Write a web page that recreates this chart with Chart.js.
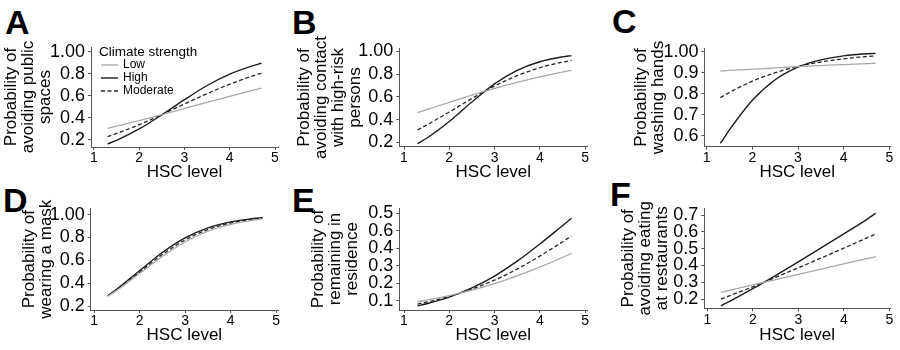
<!DOCTYPE html>
<html>
<head>
<meta charset="utf-8">
<script src="https://cdn.jsdelivr.net/npm/chart.js@4.4.1/dist/chart.umd.min.js"></script>
<style>
  body { margin: 0; background: #fff; width: 900px; height: 350px; overflow: hidden; position: relative; }
  canvas { position: absolute; }
  .letra { position: absolute; font: bold 34px 'Liberation Sans', Arial, sans-serif; line-height: 34px; color: #000; }
</style>
</head>
<body>
<div class="letra" style="left:5px;top:5px">A</div>
<div class="letra" style="left:292px;top:5px">B</div>
<div class="letra" style="left:612px;top:4px">C</div>
<div class="letra" style="left:3px;top:183px">D</div>
<div class="letra" style="left:292px;top:183px">E</div>
<div class="letra" style="left:610px;top:177px">F</div>

<canvas id="cA" width="310" height="190" style="left:0px;top:0px"></canvas>
<canvas id="cB" width="310" height="190" style="left:290px;top:0px"></canvas>
<canvas id="cC" width="310" height="190" style="left:590px;top:0px"></canvas>
<canvas id="cD" width="310" height="190" style="left:0px;top:175px"></canvas>
<canvas id="cE" width="310" height="190" style="left:290px;top:175px"></canvas>
<canvas id="cF" width="310" height="190" style="left:590px;top:175px"></canvas>

<script>
Chart.defaults.font.family = "'Liberation Sans', Arial, sans-serif";
Chart.defaults.color = '#000';

const hscLevel = [1.3, 1.5, 2, 2.5, 3, 3.5, 4, 4.5, 4.7];
const strengthNames = ['Low', 'High', 'Moderate'];
const legendTitle = 'Climate strength';
const xTitle = 'HSC level';
const xTickVals = [1, 2, 3, 4, 5];

// A: avoiding public spaces
const publicLow  = [0.306, 0.325, 0.376, 0.430, 0.486, 0.542, 0.597, 0.650, 0.670];
const publicHigh = [0.164, 0.197, 0.300, 0.428, 0.566, 0.695, 0.799, 0.874, 0.897];
const publicMod  = [0.230, 0.259, 0.339, 0.431, 0.527, 0.621, 0.707, 0.781, 0.806];
// B: avoiding contact with high-risk persons
const contactLow  = [0.462, 0.488, 0.553, 0.616, 0.675, 0.729, 0.777, 0.819, 0.834];
const contactHigh = [0.190, 0.237, 0.384, 0.556, 0.715, 0.834, 0.910, 0.953, 0.964];
const contactMod  = [0.310, 0.353, 0.468, 0.587, 0.696, 0.787, 0.857, 0.906, 0.921];
// C: washing hands
const handsLow  = [0.908, 0.911, 0.917, 0.923, 0.929, 0.934, 0.939, 0.943, 0.945];
const handsHigh = [0.565, 0.629, 0.769, 0.867, 0.927, 0.961, 0.980, 0.990, 0.992];
const handsMod  = [0.782, 0.807, 0.860, 0.900, 0.930, 0.951, 0.966, 0.977, 0.980];
// D: wearing a mask
const maskLow  = [0.285, 0.337, 0.484, 0.633, 0.760, 0.854, 0.915, 0.952, 0.962];
const maskHigh = [0.290, 0.348, 0.509, 0.668, 0.796, 0.884, 0.936, 0.966, 0.974];
const maskMod  = [0.288, 0.342, 0.496, 0.650, 0.778, 0.869, 0.926, 0.959, 0.968];
// E: remaining in residence
const homeLow  = [0.093, 0.102, 0.128, 0.159, 0.197, 0.241, 0.291, 0.346, 0.370];
const homeHigh = [0.070, 0.082, 0.120, 0.172, 0.240, 0.325, 0.423, 0.528, 0.570];
const homeMod  = [0.080, 0.091, 0.123, 0.165, 0.217, 0.280, 0.354, 0.435, 0.469];
// F: avoiding eating at restaurants
const eatLow  = [0.240, 0.253, 0.284, 0.316, 0.347, 0.378, 0.409, 0.440, 0.452];
const eatHigh = [0.160, 0.188, 0.262, 0.340, 0.421, 0.504, 0.588, 0.673, 0.710];
const eatMod  = [0.200, 0.221, 0.273, 0.329, 0.386, 0.444, 0.503, 0.563, 0.587];

const yTicksProb = [0.2, 0.4, 0.6, 0.8, 1.0];
const yLabelsProb = ['0.2', '0.4', '0.6', '0.8', '1.00'];
const yTicksHands = [0.6, 0.7, 0.8, 0.9, 1.0];
const yLabelsHands = ['0.6', '0.7', '0.8', '0.9', '1.00'];
const yTicksHome = [0.1, 0.2, 0.3, 0.4, 0.5, 0.6];
const yLabelsHome = ['0.1', '0.2', '0.3', '0.4', '0.6', '0.5'];
const yTicksEat = [0.2, 0.3, 0.4, 0.5, 0.6, 0.7];
const yLabelsEat = ['0.2', '0.3', '0.4', '0.5', '0.6', '0.7'];

const panels = [
  { id: 'cA', yTitle: ['Probability of', 'avoiding public', 'spaces'], series: [publicLow, publicHigh, publicMod], yTicks: yTicksProb, yLabels: yLabelsProb, legend: true },
  { id: 'cB', yTitle: ['Probability of', 'avoiding contact', 'with high-risk', 'persons'], series: [contactLow, contactHigh, contactMod], yTicks: yTicksProb, yLabels: yLabelsProb },
  { id: 'cC', yTitle: ['Probability of', 'washing hands'], series: [handsLow, handsHigh, handsMod], yTicks: yTicksHands, yLabels: yLabelsHands },
  { id: 'cD', yTitle: ['Probability of', 'wearing a mask'], series: [maskLow, maskHigh, maskMod], yTicks: yTicksProb, yLabels: yLabelsProb },
  { id: 'cE', yTitle: ['Probability of', 'remaining in', 'residence'], series: [homeLow, homeHigh, homeMod], yTicks: yTicksHome, yLabels: yLabelsHome },
  { id: 'cF', yTitle: ['Probability of', 'avoiding eating', 'at restaurants'], series: [eatLow, eatHigh, eatMod], yTicks: yTicksEat, yLabels: yLabelsEat }
];

// caja de cada panel: padding, ancho eje y, alto eje x, rangos
const frames = [
  { top: 47,   right: 32,   yW: 91,    xH: 43,   yPad: 3,   xPad: 9.5,  x: [0.934, 5.066], y: [0.136, 1.045] },
  { top: 48.3, right: 12.7, yW: 109.3, xH: 43.3, yPad: 5.5, xPad: 9.5,  x: [0.896, 5.05],  y: [0.163, 1.028] },
  { top: 48.3, right: 10,   yW: 114.5, xH: 43.3, yPad: 43,  xPad: 9.5,  x: [0.952, 5.015], y: [0.549, 1.016] },
  { top: 33.3, right: 32,   yW: 90.7,  xH: 55,   yPad: 21,  xPad: 21.5, x: [0.927, 5.04],  y: [0.165, 1.055] },
  { top: 33,   right: 12.7, yW: 109.3, xH: 55,   yPad: 20,  xPad: 21.5, x: [0.896, 5.05],  y: [0.046, 0.629] },
  { top: 33.3, right: 10,   yW: 114.3, xH: 56.7, yPad: 30,  xPad: 21.5, x: [0.934, 5.015], y: [0.145, 0.74] }
];

const lineStyles = [
  { borderColor: '#a8a8a8', borderWidth: 1.3, borderDash: [] },
  { borderColor: '#1c1c1c', borderWidth: 1.4, borderDash: [] },
  { borderColor: '#262626', borderWidth: 1.3, borderDash: [4, 2.5] }
];

const axisColor = '#555';

const climateLegend = {
  id: 'climateLegend',
  afterDraw(chart) {
    const ctx = chart.ctx;
    const { left, top } = chart.chartArea;
    ctx.save();
    ctx.fillStyle = '#000';
    ctx.textBaseline = 'middle';
    ctx.font = "13.5px 'Liberation Sans', Arial, sans-serif";
    ctx.fillText(legendTitle, left + 8, top + 5);
    ctx.font = "12px 'Liberation Sans', Arial, sans-serif";
    chart.data.datasets.forEach((ds, i) => {
      const y = top + 18 + i * 13;
      ctx.strokeStyle = ds.borderColor;
      ctx.lineWidth = ds.borderWidth;
      ctx.setLineDash(ds.borderDash || []);
      ctx.beginPath();
      ctx.moveTo(left + 10, y);
      ctx.lineTo(left + 27, y);
      ctx.stroke();
      ctx.fillText(ds.label, left + 32, y);
    });
    ctx.restore();
  }
};

function crearPanel(p, f) {
  const ctx = document.getElementById(p.id).getContext('2d');
  const datasets = p.series.map((s, i) => ({
    label: strengthNames[i],
    data: hscLevel.map((x, j) => ({ x: x, y: s[j] })),
    borderColor: lineStyles[i].borderColor,
    borderWidth: lineStyles[i].borderWidth,
    borderDash: lineStyles[i].borderDash,
    pointRadius: 0,
    fill: false,
    cubicInterpolationMode: 'monotone'
  }));

  return new Chart(ctx, {
    type: 'line',
    data: { datasets: datasets },
    plugins: p.legend ? [climateLegend] : [],
    options: {
      responsive: false,
      animation: false,
      devicePixelRatio: 1,
      layout: { padding: { top: f.top, right: f.right, left: 0, bottom: 0 } },
      plugins: { legend: { display: false }, tooltip: { enabled: false } },
      scales: {
        x: {
          type: 'linear',
          min: f.x[0],
          max: f.x[1],
          afterBuildTicks: s => { s.ticks = xTickVals.map(v => ({ value: v })); },
          afterFit: s => { s.height = f.xH; },
          ticks: { font: { size: 14 }, padding: 0, color: '#000', autoSkip: false, maxRotation: 0 },
          grid: { drawOnChartArea: false, drawTicks: true, tickLength: 3, color: axisColor },
          border: { color: axisColor, width: 1 },
          title: { display: true, text: xTitle, font: { size: 17, lineHeight: 1 }, color: '#000', padding: { top: 0, bottom: f.xPad } }
        },
        y: {
          type: 'linear',
          min: f.y[0],
          max: f.y[1],
          afterBuildTicks: s => { s.ticks = p.yTicks.map(v => ({ value: v })); },
          afterFit: s => { s.width = f.yW; },
          ticks: { font: { size: 18 }, padding: 3, color: '#000', autoSkip: false, callback: (v, i) => p.yLabels[i] },
          grid: { drawOnChartArea: false, drawTicks: true, tickLength: 3, color: axisColor },
          border: { color: axisColor, width: 1 },
          title: { display: true, text: p.yTitle, font: { size: 17, lineHeight: 1 }, color: '#000', padding: { top: f.yPad, bottom: 0 } }
        }
      }
    }
  });
}

panels.forEach((p, i) => crearPanel(p, frames[i]));
</script>
</body>
</html>
